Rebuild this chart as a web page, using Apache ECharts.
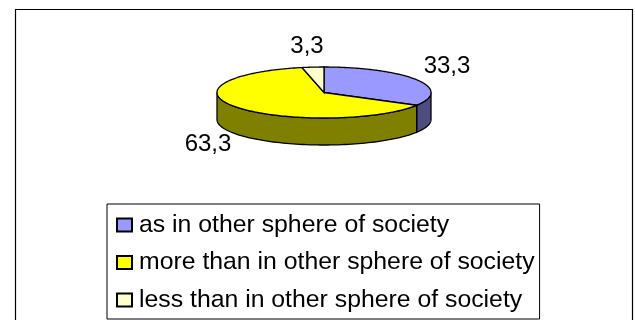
<!DOCTYPE html>
<html><head><meta charset="utf-8">
<style>html,body{margin:0;padding:0;background:#fff}#c{width:635px;height:320px}</style>
<script src="https://cdn.jsdelivr.net/npm/echarts@6/dist/echarts.min.js"></script></head>
<body><div id="c"></div>
<script>
var categories = ['as in other sphere of society','more than in other sphere of society','less than in other sphere of society'];
var values = [33.3, 63.3, 3.3];
var labels = ['33,3','63,3','3,3'];
var topColors = ['#9999ff','#ffff00','#ffffcc'];
var sideColors = ['#4d4d80','#808000','#808066'];

var chart = echarts.init(document.getElementById('c'), null, {renderer:'canvas'});
var CX=324, CY=92.5, RX=107, RY=25.5, DEPTH=27;
var total = values.reduce(function(a,b){return a+b;},0);
function pt(t,dy){return [CX+RX*Math.sin(t), CY-RY*Math.cos(t)+(dy||0)];}
function makeRender(i){
  var start=0; for(var k=0;k<i;k++) start+=values[k];
  var a0=start/total*2*Math.PI, a1=(start+values[i])/total*2*Math.PI;
  return function(params,api){
    var children=[];
    var s0=Math.max(a0,Math.PI/2), s1=Math.min(a1,Math.PI*1.5);
    if(s1>s0){
      var side=[],n=80,j;
      for(j=0;j<=n;j++) side.push(pt(s0+(s1-s0)*j/n,0));
      for(j=n;j>=0;j--) side.push(pt(s0+(s1-s0)*j/n,DEPTH));
      children.push({type:'polygon',shape:{points:side},style:{fill:sideColors[i],stroke:'#000',lineWidth:1.3}});
    }
    var top=[[CX,CY]],m=160;
    for(var q=0;q<=m;q++) top.push(pt(a0+(a1-a0)*q/m,0));
    children.push({type:'polygon',shape:{points:top},style:{fill:topColors[i],stroke:'#000',lineWidth:1.3}});
    return {type:'group',children:children};
  };
}
var labelPos=[{x:447,y:66},{x:208,y:144},{x:307,y:46}];
var series=categories.map(function(name,i){
  return {type:'custom',name:name,coordinateSystem:'none',renderItem:makeRender(i),
    data:[values[i]],itemStyle:{color:topColors[i],borderColor:'#000',borderWidth:1.3},silent:true,animation:false};
});
var elements=[{type:'rect',shape:{x:15.5,y:9.5,width:617,height:330},style:{fill:'none',stroke:'#000',lineWidth:1.2}}]
 .concat(labels.map(function(t,i){return {type:'text',x:labelPos[i].x,y:labelPos[i].y,
   style:{text:t,font:'24px "Liberation Sans"',fill:'#000',align:'center',verticalAlign:'middle'}};}));
chart.setOption({
  animation:false,
  backgroundColor:'#fff',
  graphic:{elements:elements},
  legend:{orient:'vertical',left:107,top:204,padding:[7.5,5,5.5,9],itemGap:10.5,itemWidth:15,itemHeight:13,
    borderColor:'#000',borderWidth:1,backgroundColor:'#fff',icon:'rect',data:categories,
    textStyle:{fontFamily:'Liberation Sans',fontSize:24.8,lineHeight:25,color:'#000',padding:[0,0,2,2]}},
  series:series
});
</script></body></html>
